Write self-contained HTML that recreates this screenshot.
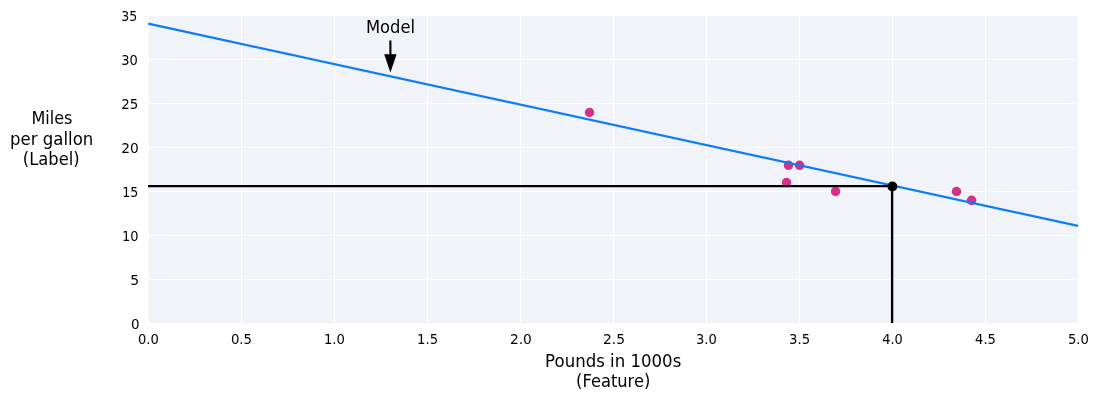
<!DOCTYPE html>
<html><head><meta charset="utf-8"><title>Model</title>
<style>
html,body{margin:0;padding:0;background:#fff;}
svg{display:block;}
text{font-family:"DejaVu Sans","Liberation Sans",sans-serif;fill:#000;}
.t{font-size:13.89px;}
.l{font-size:16.67px;}
</style></head><body>
<svg width="1099" height="401" viewBox="0 0 1099 401">
<rect width="1099" height="401" fill="#ffffff"/>

<rect x="149" y="16" width="929" height="307" fill="#f0f4f9"/>
<path d="M241.5 16V323M334.5 16V323M427.5 16V323M520.5 16V323M613.5 16V323M706.5 16V323M799.5 16V323M892.5 16V323M985.5 16V323M149 279.5H1078M149 235.5H1078M149 191.5H1078M149 147.5H1078M149 103.5H1078M149 59.5H1078" stroke="#ffffff" stroke-width="1.1" fill="none"/>
<circle cx="589.5" cy="112.5" r="4.75" fill="#d5318a"/>
<circle cx="788.5" cy="165.35" r="4.75" fill="#d5318a"/>
<circle cx="799.6" cy="165.35" r="4.75" fill="#d5318a"/>
<circle cx="786.55" cy="182.6" r="4.75" fill="#d5318a"/>
<circle cx="835.6" cy="191.45" r="4.75" fill="#d5318a"/>
<circle cx="956.5" cy="191.5" r="4.75" fill="#d5318a"/>
<circle cx="971.6" cy="200.3" r="4.75" fill="#d5318a"/>
<path d="M148.2 23.6L1078 225.85" stroke="#0c7cf8" stroke-width="2.25" fill="none"/>
<path d="M148 186.05H892.1V323" stroke="#000" stroke-width="2.35" fill="none" stroke-linejoin="round"/>
<circle cx="892.4" cy="186.4" r="4.95" fill="#000"/>
<path d="M390.4 40.5V56" stroke="#000" stroke-width="2.1" fill="none"/>
<path d="M384.2 54.3H396.6L390.4 72.4Z" fill="#000"/>
<text class="l" transform="translate(390.5 33) scale(0.982 1.08)" text-anchor="middle">Model</text>
<text class="t" transform="translate(137.93 344) scale(0.9456 1.02)">0.0</text>
<text class="t" transform="translate(230.93 344) scale(0.9549 1.02)">0.5</text>
<text class="t" transform="translate(323.93 344) scale(0.9470 1.02)">1.0</text>
<text class="t" transform="translate(417.05 344) scale(0.9509 1.02)">1.5</text>
<text class="t" transform="translate(510.02 344) scale(0.9886 1.02)">2.0</text>
<text class="t" transform="translate(602.98 344) scale(1.0001 1.02)">2.5</text>
<text class="t" transform="translate(695.97 344) scale(0.9438 1.02)">3.0</text>
<text class="t" transform="translate(789.04 344) scale(0.9522 1.02)">3.5</text>
<text class="t" transform="translate(882.16 344) scale(0.9346 1.02)">4.0</text>
<text class="t" transform="translate(975.06 344) scale(0.9427 1.02)">4.5</text>
<text class="t" transform="translate(1067.90 344) scale(0.9475 1.02)">5.0</text>
<text class="t" transform="translate(121.20 21) scale(0.9044 1.02)">35</text>
<text class="t" transform="translate(121.17 65) scale(0.9392 1.02)">30</text>
<text class="t" transform="translate(121.18 109) scale(0.9661 1.02)">25</text>
<text class="t" transform="translate(121.15 153) scale(0.9902 1.02)">20</text>
<text class="t" transform="translate(122.15 197) scale(0.9073 1.02)">15</text>
<text class="t" transform="translate(122.11 241) scale(0.9333 1.02)">10</text>
<text class="t" transform="translate(130.13 285) scale(0.9982 1.02)">5</text>
<text class="t" transform="translate(131.11 329) scale(0.9715 1.02)">0</text>
<text class="l" transform="translate(51.9 124) scale(0.964 1.08)" text-anchor="middle">Miles</text>
<text class="l" transform="translate(51.7 145) scale(0.994 1.08)" text-anchor="middle">per gallon</text>
<text class="l" transform="translate(51.2 165) scale(0.98 1.08)" text-anchor="middle">(Label)</text>
<text class="l" transform="translate(613.2 367) scale(0.995 1.08)" text-anchor="middle">Pounds in 1000s</text>
<text class="l" transform="translate(613.2 387) scale(0.978 1.08)" text-anchor="middle">(Feature)</text>
</svg></body></html>
